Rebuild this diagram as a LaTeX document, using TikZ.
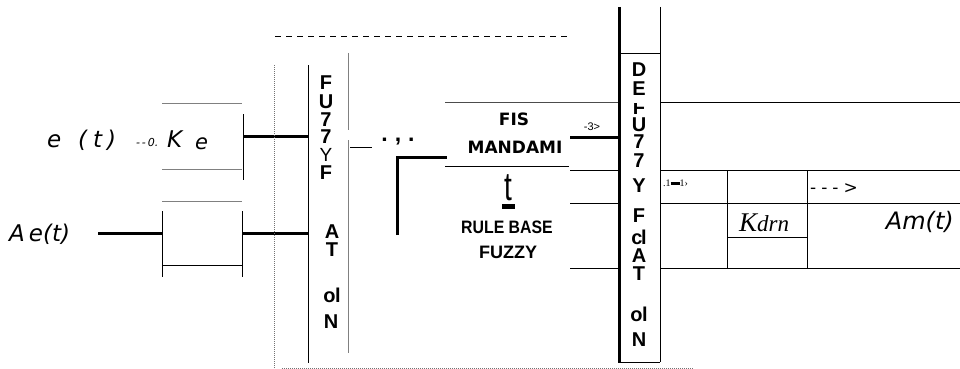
\documentclass[tikz,border=0pt]{standalone}
\usepackage{fontspec}
\setmainfont{Liberation Sans}
\newfontfamily\dejavu{DejaVu Sans}
\newfontfamily\serifit{Liberation Serif}
\begin{document}
\begin{tikzpicture}[x=1pt,y=-1pt,
  thinln/.style={line width=1pt,draw=black},
  thickln/.style={line width=3pt,draw=black},
  grayln/.style={line width=1pt,draw=black!50},
  dotln/.style={line width=1pt,draw=black!55,dash pattern=on 1pt off 1pt},
  dashln/.style={line width=1pt,draw=black,dash pattern=on 6pt off 5pt},
  itx/.style={font=\dejavu\itshape\fontsize{23}{26}\selectfont,inner sep=0pt},
  vlet/.style={font=\fontsize{20}{20}\selectfont\bfseries,inner sep=0pt},
  boxtxt/.style={font=\dejavu\bfseries\fontsize{17}{19}\selectfont,inner sep=0pt},
  rbtxt/.style={font=\bfseries\fontsize{18}{19}\selectfont,inner sep=0pt},
  tiny/.style={font=\fontsize{10}{10}\selectfont,inner sep=0pt}]
\useasboundingbox[fill=white] (0,0) rectangle (960,369);

% ---------- left input blocks ----------
\draw[grayln] (162,103) -- (242,103);
\draw[grayln] (162,169) -- (242,169);
\draw[thinln] (243,114) -- (243,180);
\draw[grayln] (162,201) -- (242,201);
\draw[thinln] (162,211) -- (162,277);
\draw[thinln] (242,211) -- (242,277);
\draw[thinln] (162,265) -- (242,265);

\node[itx,anchor=base west] (e) at (47,147) {e};
\node[itx,anchor=base west] (et) at (78,147) {(\hspace{6pt}t\hspace{5pt})};
\node[tiny,font=\dejavu\itshape\fontsize{11}{11}\selectfont,anchor=base west] (arr1) at (136,146) {-\,-\,0.};
\node[itx,anchor=base west] (K) at (167,147) {K};
\node[itx,font=\dejavu\itshape\fontsize{21}{22}\selectfont,anchor=base west] (Ke) at (195,149) {e};

\node[itx,anchor=base west] (Ae) at (9,241) {A\hspace{4pt}e(t)};

\coordinate (c1) at (98,233);
\coordinate (c2) at (162,233);
\coordinate (c3) at (243,136);
\coordinate (c4) at (308,136);
\coordinate (c5) at (242,233);
\coordinate (c6) at (308,233);
\draw[thickln] (c1) -- (c2);
\draw[thickln] (c3) -- (c4);
\draw[thickln] (c5) -- (c6);

% ---------- fuzzification column ----------
\draw[dotln] (274,65) -- (274,368);
\draw[thinln] (308,65) -- (308,363);
\draw[grayln] (348,53) -- (348,130);
\draw[grayln] (348,140) -- (348,353);
\draw[dashln] (275,37) -- (568,37);
\draw[dotln] (282,368) -- (693,368);

\node[vlet] (f1) at (326,83) {F};
\node[vlet] (f2) at (326,102) {U};
\node[vlet] (f3) at (326,119.5) {7};
\node[vlet] (f4) at (326,136.5) {7};
\node[vlet,font=\fontsize{19}{19}\selectfont] (f5) at (326,155) {Y};
\node[vlet] (f6) at (326,173) {F};
\node[vlet] (f7) at (332,232) {A};
\node[vlet] (f8) at (332,250) {T};
\node[vlet] (f9) at (332,295) {o\kern-0.5pt l};
\node[vlet] (f10) at (331,322) {N};

\draw[thinln] (350,147) -- (372,147);
\node[inner sep=0pt,anchor=base,font=\bfseries\fontsize{23}{23}\selectfont] (dots) at (398,141) {.\hspace{7pt},\hspace{7pt}.};
\draw[thickln] (397,235) -- (397,157) -- (447,157);

% ---------- FIS / rule base ----------
\draw[thinln,draw=black!70] (445,102) -- (619,102);
\draw[thinln] (445,166) -- (569,166);
\node[boxtxt] (fis) at (514,119) {FIS};
\node[boxtxt] (mand) at (515,147) {MANDAMI};
\node[inner sep=0pt,font=\fontsize{40}{40}\selectfont] (tt) at (508,188) {\scalebox{0.7}[1]{t}};
\fill (502,204) rectangle (515,209);
\node[rbtxt] (rb) at (507,227) {\scalebox{0.88}[1]{RULE BASE}};
\node[rbtxt] (fz) at (508,252) {FUZZY};

\node[inner sep=0pt,font=\fontsize{11}{11}\selectfont] (l3) at (592,127) {-3>};
\draw[thickln] (570,137) -- (619,137);
\draw[thinln] (570,170) -- (619,170);
\draw[thinln] (570,203) -- (619,203);
\draw[thinln] (570,268) -- (619,268);

% ---------- defuzzification column ----------
\draw[line width=3pt] (619,7) -- (619,363);
\draw[thinln] (660,7) -- (660,362);
\draw[thinln] (619,54) -- (660,54);
\draw[thinln] (619,362) -- (660,362);

\node[vlet] (d1) at (639,70) {D};
\node[vlet] (d2) at (639,89) {E};
\begin{scope}
\clip (621,103) rectangle (659,116);
\node[vlet] (d3) at (639,108) {F};
\end{scope}
\node[vlet] (d4) at (639,125) {U};
\node[vlet] (d5) at (639,142) {7};
\begin{scope}
\clip (621,152) rectangle (659,169.5);
\node[vlet] (d6) at (639,161) {7};
\end{scope}
\node[vlet] (d7) at (639,186) {Y};
\node[vlet] (d8) at (639,216) {F};
\node[vlet] (d9) at (639,237) {c\kern-1.5pt l};
\node[vlet] (d10) at (639,256) {A};
\node[vlet] (d11) at (639,274) {T};
\node[vlet] (d12) at (639,314) {o\kern-0.5pt l};
\node[vlet] (d13) at (639,340) {N};

% ---------- output part ----------
\draw[thinln] (660,102) -- (960,102);
\draw[thinln] (660,170) -- (960,170);
\draw[thinln] (660,203) -- (960,203);
\draw[thinln] (660,268) -- (960,268);
\draw[thinln] (727,170) -- (727,268);
\draw[thinln] (807,170) -- (807,268);
\draw[thinln] (727,237) -- (807,237);

\node[inner sep=0pt,anchor=west,font=\serifit\fontsize{10}{10}\selectfont] (sm) at (663,183) {.1\rule[1.5pt]{9pt}{3pt}1›};
\node[inner sep=0pt,anchor=base west,font=\serifit\itshape\fontsize{27}{30}\selectfont] (Kd) at (739,231) {K\fontsize{23}{25}\selectfont drn};
\node[inner sep=0pt,anchor=west,font=\dejavu\fontsize{17}{18}\selectfont] (dar) at (810,189) {-\hspace{5pt}-\hspace{5pt}-\hspace{5pt}>};
\node[itx,font=\dejavu\itshape\fontsize{24}{26}\selectfont,anchor=base east] (Am) at (954,229) {Am(t)};
\end{tikzpicture}
\end{document}
